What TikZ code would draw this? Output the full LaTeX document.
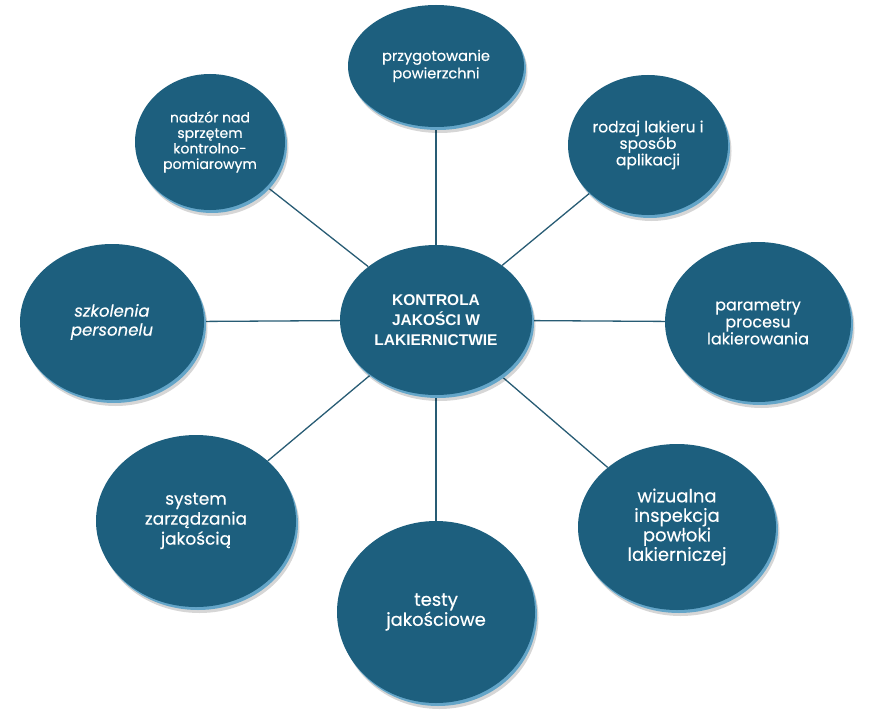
\documentclass[tikz,border=0pt]{standalone}
\usepackage{fontspec}
\setmainfont{Poppins}
\newfontfamily\discfont[FakeBold=0.35]{Poppins}
\newfontfamily\hubfont{Liberation Sans}
\usetikzlibrary{shapes.geometric,shadows,backgrounds}

\definecolor{discblue}{RGB}{29,95,126}
\definecolor{discrim}{RGB}{100,165,200}
\definecolor{spokeblue}{RGB}{40,92,116}

\tikzset{
  disc/.style={ellipse, inner sep=0pt, fill=discblue, text=white, align=center,
    general shadow={fill=black, opacity=.16, shadow xshift=3.5pt, shadow yshift=-6pt},
    general shadow={fill=discrim, shadow xshift=2pt, shadow yshift=-3pt}},
  txt/.style 2 args={font=\discfont\fontsize{#1}{#2}\selectfont},
  hub/.style={disc, font=\hubfont\bfseries\fontsize{15.5}{20}\selectfont},
  spoke/.style={draw=spokeblue, line width=1.3pt}
}

\begin{document}
\begin{tikzpicture}[x=1pt, y=-1pt]
  \useasboundingbox (0,0) rectangle (872,714);

  %%%%% DISCS %%%%%
  \node[hub, minimum width=192pt, minimum height=150pt] (quality) at (436, 320)
    {KONTROLA\\JAKOŚCI W\\LAKIERNICTWIE};

  \node[disc, txt={14.6}{17.5}, minimum width=176pt, minimum height=122pt] (surface) at (436, 66)
    {przygotowanie\\powierzchni};
  \node[disc, txt={15.5}{16.5}, minimum width=160pt, minimum height=140pt] (paint) at (648, 145)
    {rodzaj lakieru i\\sposób\\aplikacji};
  \node[disc, txt={16}{17}, minimum width=186pt, minimum height=160pt] (params) at (758, 322)
    {parametry\\procesu\\lakierowania};
  \node[disc, txt={18}{19.5}, minimum width=198pt, minimum height=166pt] (visual) at (677, 527)
    {wizualna\\inspekcja\\powłoki\\lakierniczej};
  \node[disc, txt={18}{20}, minimum width=198pt, minimum height=182pt] (tests) at (436, 612)
    {testy\\jakościowe};
  \node[disc, txt={17}{20}, minimum width=200pt, minimum height=172pt] (system) at (196, 521)
    {system\\zarządzania\\jakością};
  \node[disc, txt={16.5}{19}, minimum width=184pt, minimum height=156pt] (staff) at (112, 322)
    {\itshape szkolenia\\\itshape personelu};
  \node[disc, txt={14}{15.5}, minimum width=150pt, minimum height=136pt] (gauges) at (210, 142)
    {nadzór nad\\sprzętem\\kontrolno-\\pomiarowym};

  %%%%% SPOKES %%%%%
  \begin{scope}[on background layer]
    \foreach \leaf in {surface, paint, params, visual, tests, system, staff, gauges}
      \draw[spoke] (quality) -- (\leaf);
  \end{scope}
\end{tikzpicture}
\end{document}
